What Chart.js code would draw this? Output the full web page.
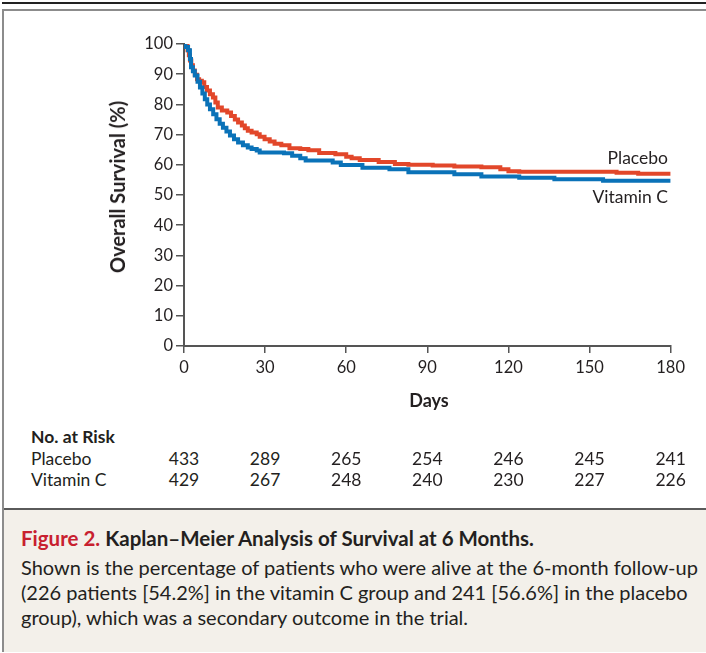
<!DOCTYPE html>
<html>
<head>
<meta charset="utf-8">
<script src="https://cdn.jsdelivr.net/npm/chart.js@4.4.1/dist/chart.umd.min.js"></script>
<style>
  body { margin: 0; width: 706px; height: 653px; position: relative; overflow: hidden;
         background: #fff; font-family: Lato, "Open Sans", sans-serif; color: #231f20; }
  .topline { position: absolute; left: 2px; right: 0; top: 2px; height: 2px; background: #222; }
  .frame { position: absolute; left: 2px; top: 9px; width: 740px; height: 643px;
           border: 2px solid #8c8c8c; box-sizing: border-box; }
  .caption { position: absolute; left: 4px; top: 508px; width: 740px; height: 142px;
             background: #f3f0ea; border-top: 2px solid #5a5a5a; }
  .cap-title { position: absolute; left: 17px; top: 16px; font-size: 20.5px; font-weight: bold; white-space: nowrap; }
  .cap-title span { color: #c8202f; }
  .cap-body { position: absolute; left: 17px; top: 45px; width: 684px; font-size: 20px; line-height: 25px; }
  #wrap { position: absolute; left: 100px; top: 30px; width: 590px; height: 390px; }
  .lbl { position: absolute; white-space: nowrap; }
  .bold { font-weight: bold; }
</style>
</head>
<body>
<div class="topline"></div>
<div class="frame"></div>

<div id="wrap"><canvas id="km" width="590" height="390"></canvas></div>

<div class="lbl bold" style="left:117px; top:187px; font-size:20px; transform:translate(-50%,-50%) rotate(-90deg);">Overall Survival (%)</div>
<div class="lbl bold" style="left:429px; top:400px; font-size:18px; transform:translate(-50%,-50%);">Days</div>
<div class="lbl" style="right:38px; top:157px; font-size:17.5px; transform:translateY(-50%);">Placebo</div>
<div class="lbl" style="right:38px; top:196px; font-size:17.5px; transform:translateY(-50%);">Vitamin C</div>

<div id="risk"></div>

<div class="caption">
  <div class="cap-title"><span>Figure 2.</span> Kaplan–Meier Analysis of Survival at 6 Months.</div>
  <div class="cap-body">Shown is the percentage of patients who were alive at the 6-month follow-up (226 patients [54.2%] in the vitamin C group and 241 [56.6%] in the placebo group), which was a secondary outcome in the trial.</div>
</div>

<script>
// survival curves (day, % alive from that day on)
const placeboDays = [0, 0.8, 1.3, 1.8, 2.2, 2.7, 3.3, 4, 4.8, 5.6, 6.6, 7.5, 8.5, 9.6, 10.7, 11.6, 12.5, 14, 16, 17.4,
  18.8, 20, 21.4, 22.5, 23.6, 25, 26.9, 28, 29.8, 31.7, 33.5, 36, 39, 43, 46, 50, 56, 60, 62, 65,
  72, 78, 83, 92, 100, 110, 117, 120, 124, 160, 168, 180];
const placeboSurv = [100, 99.3, 97.9, 96.3, 94.5, 93, 91.2, 89.8, 88.3, 87.8, 87.3, 85.8, 84.6, 83.4, 82.3, 80.6, 79, 78, 77.3, 76.2,
  75, 74, 73, 72.1, 71.3, 70.7, 70.1, 69.3, 68.5, 67.7, 67, 66.5, 65.5, 65.2, 64.8, 63.9, 63.5, 62.7, 62.2, 61.6,
  60.9, 60.3, 60, 59.8, 59.4, 59.2, 58.5, 57.9, 57.7, 57.4, 57, 57];

const vitcDays = [0, 0.5, 1.5, 2.2, 2.6, 3.3, 4, 5, 5.9, 6.8, 7.7, 8.6, 9.6, 10.8, 12, 13.2, 14.4, 15.7, 17, 18.5,
  20, 21.8, 23.6, 25, 26.9, 28, 37, 40, 43, 45, 55, 58, 66, 76, 83, 100, 110, 124, 137, 155, 180];
const vitcSurv = [100, 99, 97.9, 95, 92.3, 91, 89.6, 87.5, 85.6, 83.6, 81.7, 80, 78.4, 76.7, 75.1, 73.6, 72.3, 71, 69.7, 68.5,
  67.4, 66.5, 65.7, 65.2, 64.7, 64.1, 63.8, 63, 62.2, 61.4, 60.8, 59.9, 59, 58.5, 57.5, 56.9, 56.1, 55.7, 55.2, 54.7, 54.7];

// number at risk
const riskDays = [0, 30, 60, 90, 120, 150, 180];
const riskPlacebo = [433, 289, 265, 254, 246, 245, 241];
const riskVitc = [429, 267, 248, 240, 230, 227, 226];

const xTicks = [0, 30, 60, 90, 120, 150, 180];
const yTicks = [0, 10, 20, 30, 40, 50, 60, 70, 80, 90, 100];

const axisColor = '#555';
const tickFont = { family: 'Lato', size: 16.5 };

function toPoints(days, vals) {
  return days.map((d, i) => ({ x: d, y: vals[i] }));
}

const chart = new Chart(document.getElementById('km'), {
  type: 'line',
  data: {
    datasets: [
      { label: 'Vitamin C', data: toPoints(vitcDays, vitcSurv), borderColor: '#0a72b8', borderWidth: 4,
        stepped: true, pointRadius: 0, fill: false },
      { label: 'Placebo', data: toPoints(placeboDays, placeboSurv), borderColor: '#e2472a', borderWidth: 4,
        stepped: true, pointRadius: 0, fill: false }
    ]
  },
  options: {
    responsive: false,
    animation: false,
    layout: { padding: { left: 0, top: 14, right: 17, bottom: 0 } },
    plugins: { legend: { display: false }, tooltip: { enabled: false } },
    scales: {
      x: {
        type: 'linear', min: 0, max: 180,
        afterBuildTicks: s => { s.ticks = xTicks.map(v => ({ value: v })); },
        afterFit: s => { s.height = 74; },
        border: { color: axisColor, width: 2 },
        grid: { drawOnChartArea: false, color: axisColor, lineWidth: 1.5, tickLength: 7 },
        ticks: { color: '#231f20', font: tickFont, padding: 5, maxRotation: 0 }
      },
      y: {
        min: 0, max: 100,
        afterBuildTicks: s => { s.ticks = yTicks.map(v => ({ value: v })); },
        afterFit: s => { s.width = 84; },
        border: { color: axisColor, width: 2 },
        grid: { drawOnChartArea: false, color: axisColor, lineWidth: 1.5, tickLength: 8 },
        ticks: { color: '#231f20', font: tickFont, padding: 3 }
      }
    }
  }
});

// number-at-risk table, numbers centred under the x ticks
const risk = document.getElementById('risk');
function addText(txt, left, top, extra) {
  const d = document.createElement('div');
  d.className = 'lbl';
  d.textContent = txt;
  d.style.cssText += `left:${left}px; top:${top}px; font-size:17.5px; transform:translate(${extra || '0'},-50%);`;
  risk.appendChild(d);
  return d;
}
addText('No. at Risk', 31, 436).classList.add('bold');
addText('Placebo', 31, 458);
addText('Vitamin C', 31, 479);
const wrapLeft = 100;
riskDays.forEach((d, i) => {
  const px = wrapLeft + chart.scales.x.getPixelForValue(d);
  addText(String(riskPlacebo[i]), px, 458, '-50%');
  addText(String(riskVitc[i]), px, 479, '-50%');
});
</script>
</body>
</html>
